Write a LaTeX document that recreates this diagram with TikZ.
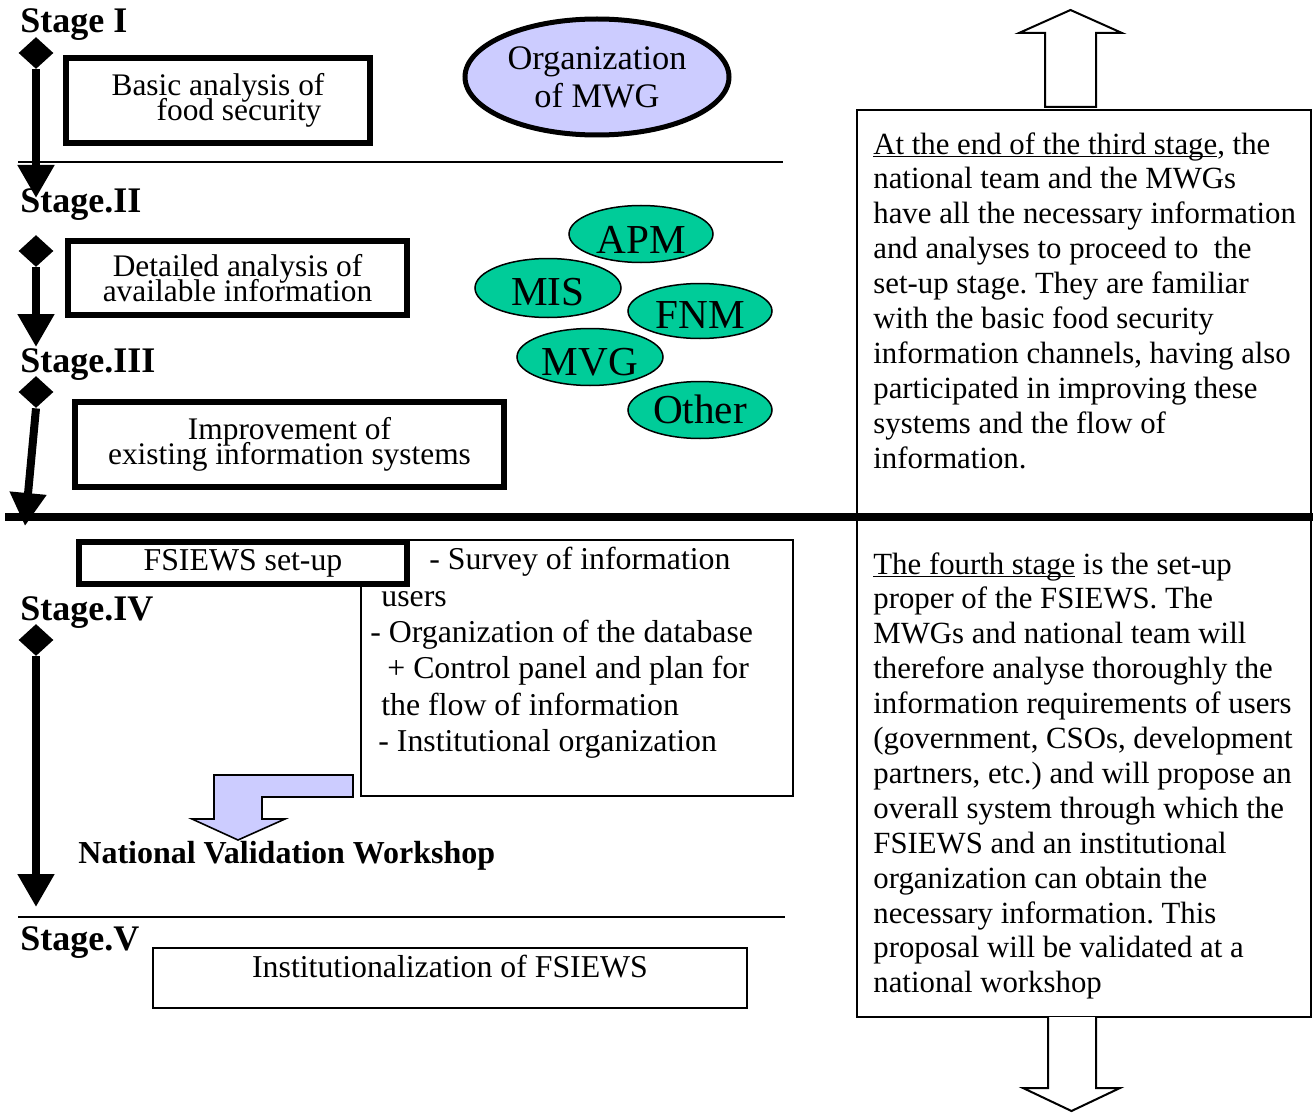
\documentclass[tikz,border=0pt]{standalone}
\usepackage{fontspec}
\setmainfont{Liberation Serif}
\usetikzlibrary{shapes.geometric,arrows.meta}
\definecolor{lavender}{HTML}{CCCCFF}
\definecolor{teal}{HTML}{00CC99}
\frenchspacing
% underline that sits just below the baseline
\newcommand\myul[1]{\setbox0\hbox{#1}\rlap{\rule[-1.6pt]{\wd0}{0.7pt}}\box0\relax}
% fixed line pitch, even when lines would touch
\newcommand\tightlines{\lineskiplimit=-20pt\relax\lineskip=0pt\relax}
\begin{document}
\begin{tikzpicture}[x=0.5pt,y=-0.5pt,
  stagelabel/.style={anchor=base west,inner sep=0pt,font=\bfseries\fontsize{18}{20}\selectfont},
  stagemark/.style={diamond,fill=black,inner sep=0pt,minimum width=17.5pt,minimum height=16pt},
  stagearrow/.style={line width=4pt,-{Triangle[length=16.5pt 0,width=17.5pt 0]}},
  thickbox/.style={draw,line width=3pt,fill=white,inner sep=0pt,align=center,
    font=\fontsize{15.7}{12.5}\selectfont\tightlines},
  thinbox/.style={draw,line width=0.8pt,inner sep=0pt},
  group/.style={ellipse,draw,line width=0.75pt,fill=teal,inner sep=0pt},
  grouptext/.style={inner sep=0pt,font=\fontsize{20.6}{22}\selectfont},
  bodytext/.style={anchor=north west,inner sep=0pt,align=left,font=\fontsize{15.4}{17.45}\selectfont},
  listtext/.style={anchor=north west,inner sep=0pt,align=left,font=\fontsize{15.9}{18.2}\selectfont},
  hollow/.style={draw,line width=1pt,fill=white,line join=miter},
]
\useasboundingbox (0,0) rectangle (1313,1113);

% ---- stage separators
\coordinate (sepA) at (18,162);
\coordinate (sepAend) at (783,162);
\draw[line width=1pt] (sepA) -- (sepAend);
\coordinate (sepB) at (5,517);
\coordinate (sepBend) at (1313,517);
\coordinate (sepC) at (18,917);
\coordinate (sepCend) at (785,917);
\draw[line width=1pt] (sepC) -- (sepCend);

% ---- right-hand commentary boxes
\node[thinbox,minimum width=227pt,minimum height=203.5pt] (upperbox) at (1084,313.5) {};
\node[thinbox,minimum width=227pt,minimum height=250pt] (lowerbox) at (1084,767) {};
\draw[line width=4pt] (sepB) -- (sepBend);

\node[bodytext] (uppertext) at (873,132) {%
\myul{At the end of the third stage}, the\\
national team and the MWGs\\
have all the necessary information\\
and analyses to proceed to\ \ the\\
set-up stage. They are familiar\\
with the basic food security\\
information channels, having also\\
participated in improving these\\
systems and the flow of\\
information.};

\node[bodytext] (lowertext) at (873,552) {%
\myul{The fourth stage} is the set-up\\
proper of the FSIEWS. The\\
MWGs and national team will\\
therefore analyse thoroughly the\\
information requirements of users\\
(government, CSOs, development\\
partners, etc.) and will propose an\\
overall system through which the\\
FSIEWS and an institutional\\
organization can obtain the\\
necessary information. This\\
proposal will be validated at a\\
national workshop};

% hollow block arrows above and below the commentary
\draw[hollow] (1045,107) -- (1045,33) -- (1019,33) -- (1070.5,10) -- (1122,33)
  -- (1096,33) -- (1096,107) -- cycle;
\draw[hollow] (1048,1017) -- (1048,1088) -- (1023,1088) -- (1071.5,1111) -- (1120,1088)
  -- (1096,1088) -- (1096,1017);

% ---- Stage I
\node[stagelabel] (s1) at (20,33) {Stage I};
\node[stagemark] (m1) at (36,53) {};
\coordinate (t1) at (36,198);
\draw[stagearrow] (m1.south) -- (t1);
\node[thickbox,minimum width=152pt,minimum height=42.5pt,align=left] (basic) at (218,100.5)
  {Basic analysis of\\\hspace*{22.5pt}food security};
\node[ellipse,draw,line width=2.5pt,fill=lavender,inner sep=0pt,minimum width=132pt,
  minimum height=58pt,align=center,font=\fontsize{17.2}{19}\selectfont] (mwg) at (597,77)
  {Organization\\of MWG};

% ---- Stage II
\node[stagelabel] (s2) at (20,213) {Stage.II};
\node[stagemark] (m2) at (36,251) {};
\coordinate (t2) at (36,347);
\draw[stagearrow] (m2.south) -- (t2);
\node[thickbox,minimum width=169.5pt,minimum height=37pt] (detail) at (237.5,278)
  {Detailed analysis of\\available information};

% information systems
\node[group,minimum width=72pt,minimum height=28.5pt] (apm) at (641,234) {};
\node[group,minimum width=73pt,minimum height=29.5pt] (mis) at (548,288) {};
\node[group,minimum width=72pt,minimum height=27.5pt] (fnm) at (700,311) {};
\node[group,minimum width=73pt,minimum height=28.5pt] (mvg) at (590,357) {};
\node[group,minimum width=72pt,minimum height=28.5pt] (other) at (700,410) {};
\node[grouptext,anchor=base] at (641,253) {APM};
\node[grouptext,anchor=base] at (548,305) {MIS};
\node[grouptext,anchor=base] at (700,328) {FNM};
\node[grouptext,anchor=base] at (590,375) {MVG};
\node[grouptext,anchor=base] at (700,423) {Other};

% ---- Stage III
\node[stagelabel] (s3) at (20,372) {Stage.III};
\node[stagemark] (m3) at (36,392) {};
\coordinate (t3) at (25,526);
\draw[stagearrow] (m3.south) -- (t3);
\node[thickbox,minimum width=214.5pt,minimum height=42.5pt] (improve) at (289.5,444.5)
  {Improvement of\\existing information systems};

% ---- Stage IV
\node[thinbox,minimum width=216pt,minimum height=128pt] (tasks) at (577,668) {};
\node[listtext] (tasktext) at (370,547) {%
\hspace*{29.5pt}- Survey of information\\
\hspace*{5.5pt}users\\
- Organization of the database\\
\hspace*{8.5pt}+ Control panel and plan for\\
\hspace*{5.5pt}the flow of information\\
\hspace*{4pt}- Institutional organization};
\node[thickbox,minimum width=164pt,minimum height=21pt,font=\fontsize{15.9}{18}\selectfont]
  (setup) at (243,563) {FSIEWS set-up};
\node[stagelabel] (s4) at (20,620) {Stage.IV};
\node[stagemark] (m4) at (36,640) {};
\coordinate (t4) at (36,907);
\draw[stagearrow] (m4.south) -- (t4);

% bent arrow towards the validation workshop
\draw[fill=lavender,line width=0.8pt,line join=miter] (214,775) -- (353,775) -- (353,797)
  -- (262,797) -- (262,819) -- (285,819) -- (238,840) -- (192,819) -- (214,819) -- cycle;
\node[anchor=base west,inner sep=0pt,font=\bfseries\fontsize{16}{18}\selectfont]
  (workshop) at (78,863) {National Validation Workshop};

% ---- Stage V
\node[stagelabel] (s5) at (20,950) {Stage.V};
\node[thinbox,minimum width=297pt,minimum height=30pt] (inst) at (450,978) {};
\node[anchor=base,inner sep=0pt,font=\fontsize{15.9}{18}\selectfont] (insttext) at (450,977)
  {Institutionalization of FSIEWS};
\end{tikzpicture}
\end{document}
